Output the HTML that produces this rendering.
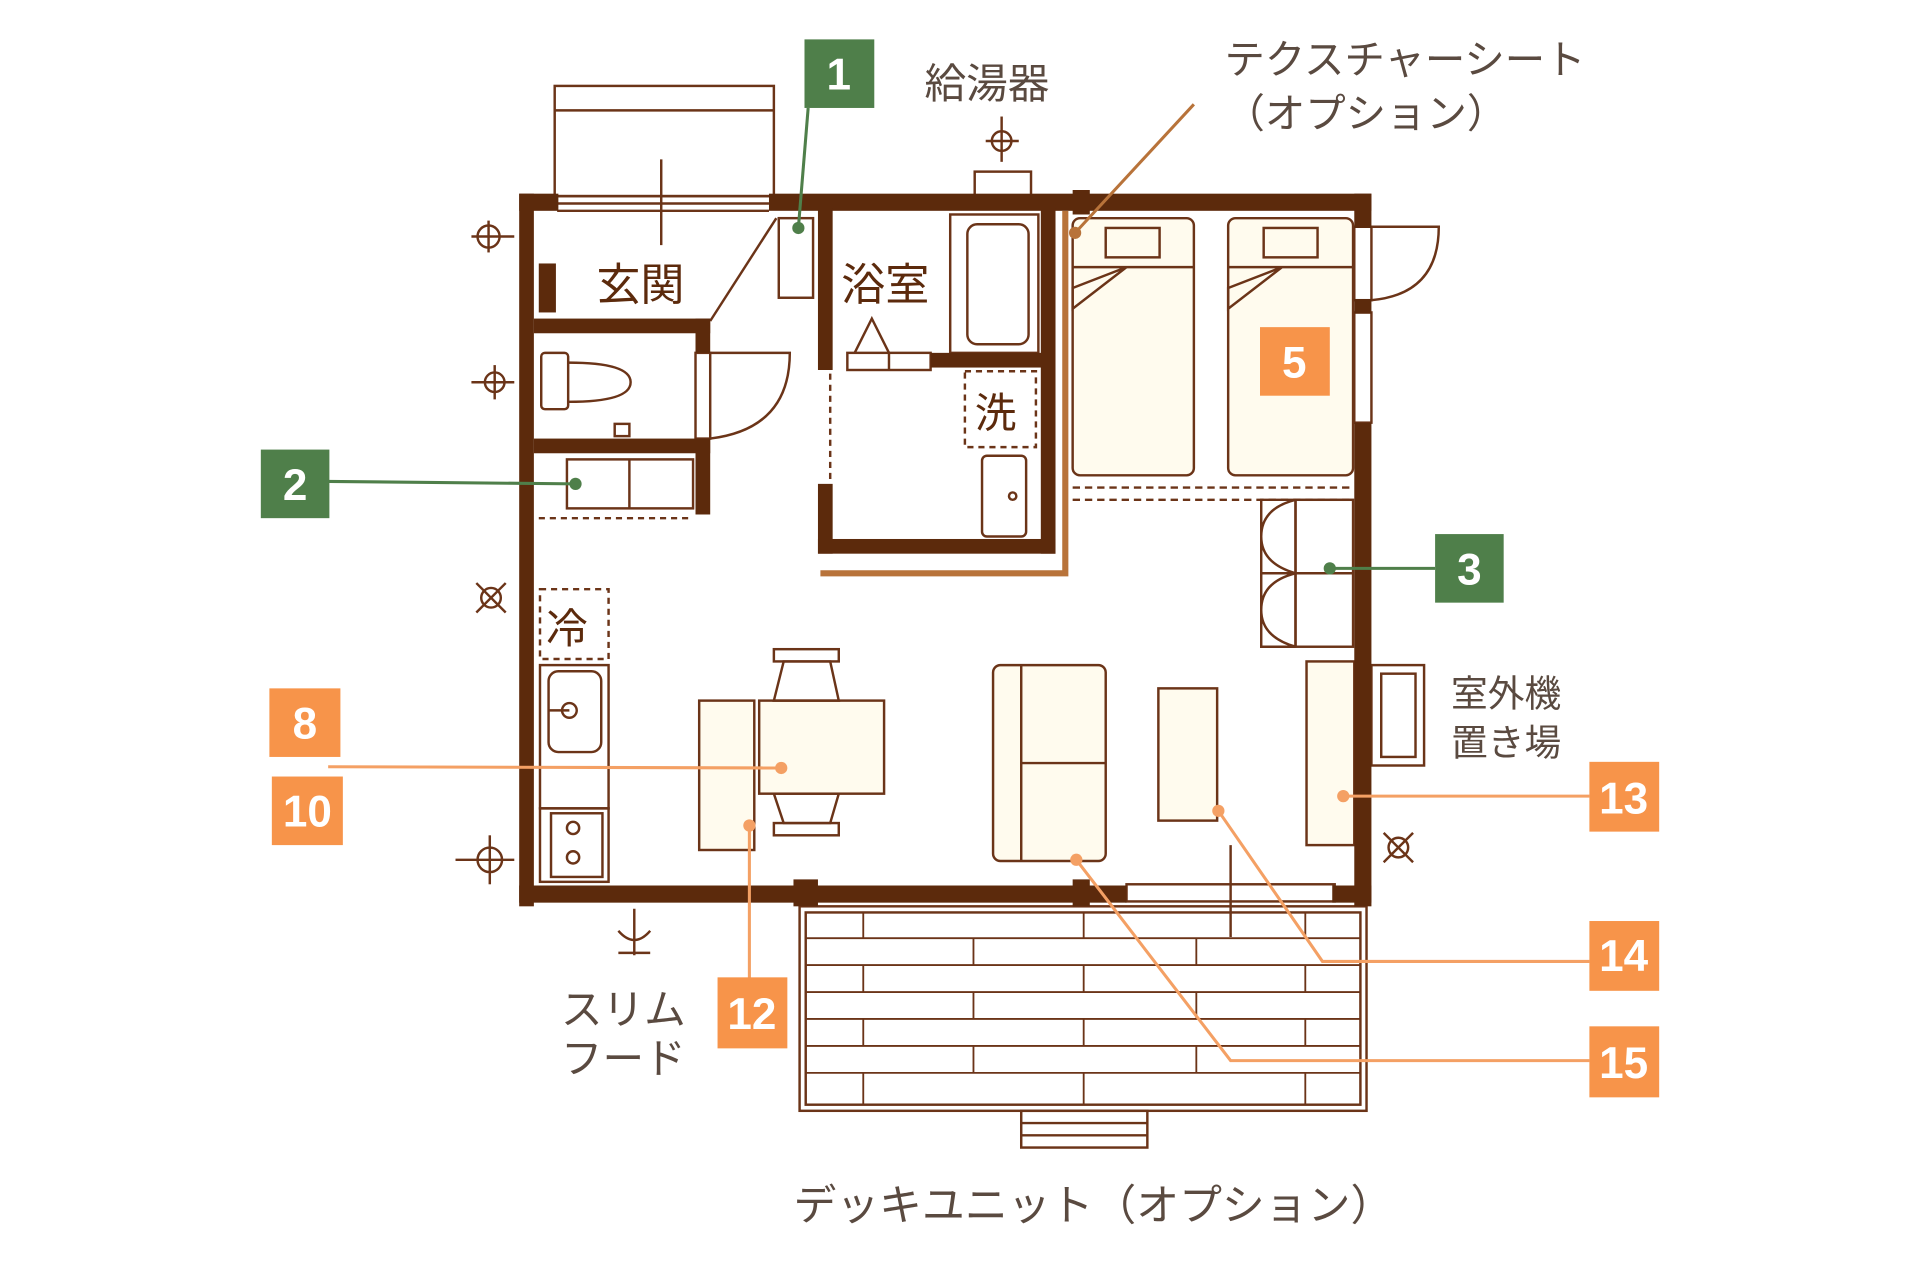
<!DOCTYPE html>
<html><head><meta charset="utf-8"><style>
html,body{margin:0;padding:0;background:#fff;}
svg{display:block;}
text{font-family:"Liberation Sans","Noto Sans CJK JP",sans-serif;}
</style></head><body>
<svg width="1920" height="1280" viewBox="0 0 1568 1045" xmlns="http://www.w3.org/2000/svg">
<g fill="none" stroke="#6b3418" stroke-width="2">
<rect x="453" y="70" width="179" height="90"/>
<line x1="453" y1="90" x2="632" y2="90"/>
<line x1="540" y1="130" x2="540" y2="200"/>
<line x1="455" y1="160" x2="628" y2="160"/><line x1="455" y1="166" x2="628" y2="166"/><line x1="455" y1="172" x2="628" y2="172"/>
<rect x="796" y="140" width="46" height="20"/>
<rect x="636" y="178" width="28" height="65"/>
<line x1="580" y1="262" x2="634" y2="178"/>
<rect x="442" y="288" width="22" height="46" rx="3"/>
<path d="M464 296 Q515 296 515 312 Q515 328 464 328"/>
<rect x="502" y="346" width="12" height="10"/>
<rect x="568" y="288" width="12" height="70"/>
<path d="M580 288 L645 288 Q645 350 580 358"/>
<rect x="463" y="375" width="103" height="40"/><line x1="514" y1="375" x2="514" y2="415"/>
<line x1="440" y1="423" x2="566" y2="423" stroke-dasharray="5 4"/>
<rect x="790" y="183" width="50" height="98" rx="8"/>
<rect x="776" y="175" width="72" height="113"/>
<path d="M698 288 L712 260 L726 288"/>
<rect x="692" y="288" width="68" height="14"/>
<line x1="726" y1="288" x2="726" y2="302"/>
<line x1="678" y1="305" x2="678" y2="395" stroke-dasharray="5 4"/>
<rect x="788" y="303" width="58" height="62" stroke-dasharray="5 4"/>
<rect x="802" y="372" width="36" height="66" rx="4"/>
<circle cx="827" cy="405" r="3"/>
<rect x="876" y="178" width="99" height="210" rx="6" fill="#fffbee"/>
<rect x="1003" y="178" width="102" height="210" rx="6" fill="#fffbee"/>
<rect x="903" y="186" width="44" height="24"/><rect x="1032" y="186" width="44" height="24"/>
<path d="M876 218 L975 218 M876 235 L920 218 L876 252 Z"/>
<path d="M1003 218 L1105 218 M1003 235 L1047 218 L1003 252 Z"/>
<line x1="876" y1="398" x2="1105" y2="398" stroke-dasharray="6 4"/>
<line x1="876" y1="408" x2="1105" y2="408" stroke-dasharray="6 4"/>
<rect x="1058" y="408" width="47" height="120"/>
<line x1="1030" y1="468" x2="1105" y2="468"/>
<path d="M1058 408 Q1030 415 1030 438 Q1030 460 1058 468 Q1030 475 1030 498 Q1030 520 1058 528 L1030 528 L1030 408 Z"/>
<line x1="1058" y1="408" x2="1058" y2="528"/>
<rect x="1106" y="185" width="14" height="60"/>
<path d="M1120 185 L1175 185 Q1175 240 1120 245"/>
<rect x="1106" y="255" width="14" height="90"/>
<rect x="441" y="481" width="56" height="57" stroke-dasharray="5 4"/>
<rect x="441" y="543" width="56" height="117"/>
<rect x="448" y="548" width="43" height="66" rx="8"/>
<circle cx="465" cy="580" r="6"/><line x1="448" y1="580" x2="465" y2="580"/>
<rect x="441" y="660" width="56" height="60"/>
<rect x="450" y="664" width="42" height="52"/>
<circle cx="468" cy="676" r="5"/><circle cx="468" cy="700" r="5"/>
<rect x="571" y="572" width="45" height="122" fill="#fffbee"/>
<rect x="620" y="572" width="102" height="76" fill="#fffbee"/>
<rect x="632" y="530" width="53" height="10"/><path d="M640 540 L678 540 L685 572 L632 572 Z"/>
<rect x="632" y="672" width="53" height="10"/><path d="M632 648 L685 648 L678 672 L640 672 Z"/>
<rect x="811" y="543" width="92" height="160" rx="6" fill="#fffbee"/>
<line x1="834" y1="543" x2="834" y2="703"/><line x1="834" y1="623" x2="903" y2="623"/>
<rect x="946" y="562" width="48" height="108" fill="#fffbee"/>
<rect x="1067" y="540" width="39" height="150" fill="#fffbee"/>
<rect x="1120" y="543" width="43" height="82"/><rect x="1128" y="550" width="28" height="68"/>
<rect x="920" y="722" width="170" height="14"/>
<line x1="1005" y1="690" x2="1005" y2="765"/>
<rect x="653" y="740" width="463" height="167"/>
<rect x="658" y="745" width="453" height="157"/>
<g stroke-width="1.5">
<line x1="658" y1="766" x2="1111" y2="766"/><line x1="658" y1="788" x2="1111" y2="788"/><line x1="658" y1="810" x2="1111" y2="810"/><line x1="658" y1="832" x2="1111" y2="832"/><line x1="658" y1="854" x2="1111" y2="854"/><line x1="658" y1="876" x2="1111" y2="876"/>
<line x1="705" y1="745" x2="705" y2="766"/><line x1="885" y1="745" x2="885" y2="766"/><line x1="1066" y1="745" x2="1066" y2="766"/>
<line x1="795" y1="766" x2="795" y2="788"/><line x1="977" y1="766" x2="977" y2="788"/>
<line x1="705" y1="788" x2="705" y2="810"/><line x1="885" y1="788" x2="885" y2="810"/><line x1="1066" y1="788" x2="1066" y2="810"/>
<line x1="795" y1="810" x2="795" y2="832"/><line x1="977" y1="810" x2="977" y2="832"/>
<line x1="705" y1="832" x2="705" y2="854"/><line x1="885" y1="832" x2="885" y2="854"/><line x1="1066" y1="832" x2="1066" y2="854"/>
<line x1="795" y1="854" x2="795" y2="876"/><line x1="977" y1="854" x2="977" y2="876"/>
<line x1="705" y1="876" x2="705" y2="902"/><line x1="885" y1="876" x2="885" y2="902"/><line x1="1066" y1="876" x2="1066" y2="902"/>
</g>
<rect x="834" y="907" width="103" height="30"/>
<line x1="834" y1="917" x2="937" y2="917"/><line x1="834" y1="927" x2="937" y2="927"/>
<circle cx="399" cy="193" r="9"/><line x1="385" y1="193" x2="420" y2="193"/><line x1="399" y1="180" x2="399" y2="206"/>
<circle cx="404" cy="312" r="8"/><line x1="385" y1="312" x2="420" y2="312"/><line x1="404" y1="298" x2="404" y2="326"/>
<circle cx="400" cy="702" r="10"/><line x1="372" y1="702" x2="420" y2="702"/><line x1="400" y1="682" x2="400" y2="722"/>
<circle cx="818" cy="115" r="8"/><line x1="805" y1="115" x2="832" y2="115"/><line x1="818" y1="95" x2="818" y2="132"/>
<path d="M505 760 Q518 775 531 760 M518 742 L518 780 M505 778 L531 778"/>
<circle cx="401" cy="488" r="8"/><line x1="389" y1="476" x2="413" y2="500"/><line x1="413" y1="476" x2="389" y2="500"/>
<circle cx="1142" cy="692" r="8"/><line x1="1130" y1="680" x2="1154" y2="704"/><line x1="1154" y1="680" x2="1130" y2="704"/>
</g>
<g fill="#5c2a0c">
<rect x="424" y="158" width="12" height="582"/>
<rect x="424" y="158" width="32" height="14"/>
<rect x="628" y="158" width="492" height="14"/>
<rect x="1106" y="158" width="14" height="28"/>
<rect x="1106" y="244" width="14" height="12"/>
<rect x="1106" y="345" width="14" height="395"/>
<rect x="424" y="723" width="496" height="14"/>
<rect x="1088" y="723" width="32" height="14"/>
<rect x="436" y="260" width="144" height="12"/>
<rect x="568" y="260" width="12" height="28"/>
<rect x="436" y="358" width="144" height="12"/>
<rect x="568" y="358" width="12" height="62"/>
<rect x="668" y="170" width="12" height="132"/>
<rect x="668" y="395" width="12" height="57"/>
<rect x="668" y="440" width="194" height="12"/>
<rect x="850" y="170" width="12" height="282"/>
<rect x="760" y="288" width="100" height="12"/>
<rect x="440" y="215" width="14" height="40"/>
<rect x="648" y="718" width="20" height="22"/><rect x="876" y="718" width="14" height="22"/>
<rect x="876" y="155" width="14" height="20"/>
</g>
<path d="M870 172 L870 468 L670 468" fill="none" stroke="#b8733a" stroke-width="5"/>
<g fill="none" stroke-width="2.5">
<path d="M660 88 L652 186" stroke="#4f7f4a"/>
<path d="M268 393 L470 395" stroke="#4f7f4a"/>
<path d="M1086 464 L1172 464" stroke="#4f7f4a"/>
<path d="M975 85 L878 190" stroke="#b8733a"/>
<path d="M268 626 L638 627" stroke="#f4a064"/>
<path d="M612 674 L612 800" stroke="#f4a064"/>
<path d="M1097 650 L1298 650" stroke="#f4a064"/>
<path d="M995 662 L1080 785 L1298 785" stroke="#f4a064"/>
<path d="M879 702 L1005 866 L1298 866" stroke="#f4a064"/>
</g>
<g fill="#4f7f4a"><circle cx="652" cy="186" r="5"/><circle cx="470" cy="395" r="5"/><circle cx="1086" cy="464" r="5"/></g>
<g fill="#f4a064"><circle cx="638" cy="627" r="5"/><circle cx="612" cy="674" r="5"/><circle cx="1097" cy="650" r="5"/><circle cx="995" cy="662" r="5"/><circle cx="879" cy="702" r="5"/></g>
<circle cx="878" cy="190" r="5" fill="#b8733a"/>
<g>
<rect x="657" y="32" width="57" height="56" fill="#4f7f4a"/>
<rect x="213" y="367" width="56" height="56" fill="#4f7f4a"/>
<rect x="1172" y="436" width="56" height="56" fill="#4f7f4a"/>
<rect x="1029" y="267" width="57" height="56" fill="#f7944a"/>
<rect x="220" y="562" width="58" height="56" fill="#f7944a"/>
<rect x="222" y="634" width="58" height="56" fill="#f7944a"/>
<rect x="586" y="798" width="57" height="58" fill="#f7944a"/>
<rect x="1298" y="622" width="57" height="57" fill="#f7944a"/>
<rect x="1298" y="752" width="57" height="57" fill="#f7944a"/>
<rect x="1298" y="838" width="57" height="58" fill="#f7944a"/>
</g>
<g fill="#fff" font-size="36" font-weight="bold" text-anchor="middle">
<text x="685" y="73">1</text><text x="241" y="408">2</text><text x="1200" y="477">3</text>
<text x="1057" y="308">5</text><text x="249" y="603">8</text><text x="251" y="675">10</text>
<text x="614" y="840">12</text><text x="1326" y="664">13</text><text x="1326" y="793">14</text><text x="1326" y="880">15</text>
</g>
<g fill="#5c2a0c" font-size="36">
<text x="487" y="245">玄関</text>
<text x="687" y="245">浴室</text>
<text x="796" y="349" font-size="34">洗</text>
<text x="446" y="525" font-size="34">冷</text>
</g>
<g fill="#5a4a40" font-size="32">
<text x="755" y="80" font-size="34">給湯器</text>
<text x="1000" y="60" font-size="33">テクスチャーシート</text>
<text x="1000" y="104" font-size="33">（オプション）</text>
<text x="1185" y="577" font-size="30">室外機</text>
<text x="1185" y="617" font-size="30">置き場</text>
<text x="458" y="836" font-size="34">スリム</text>
<text x="458" y="876" font-size="34">フード</text>
<text x="648" y="996" font-size="35">デッキユニット（オプション）</text>
</g>
</svg>
</body></html>
